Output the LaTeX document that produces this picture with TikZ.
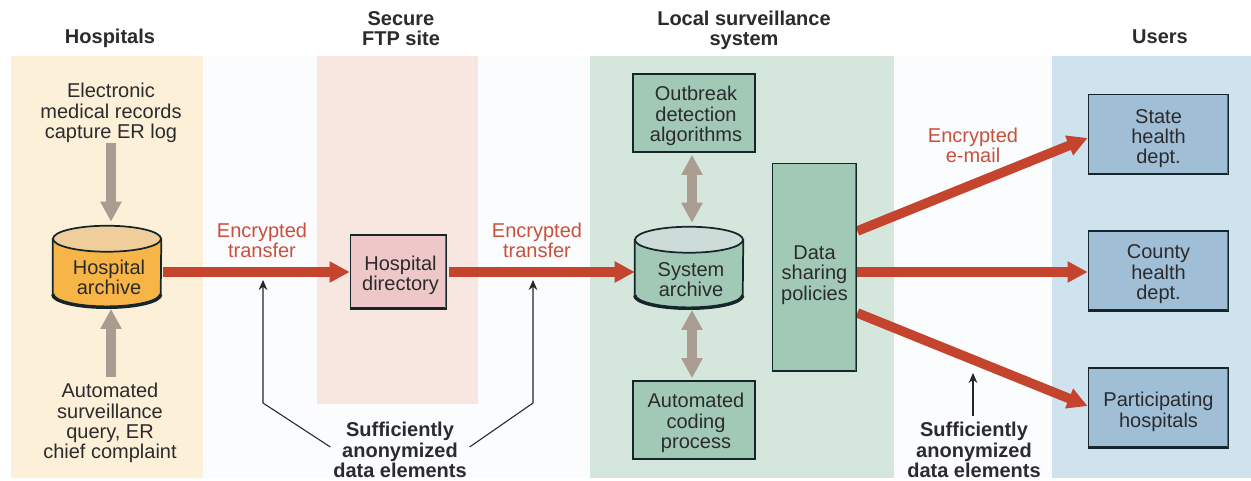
\documentclass[tikz,border=0pt]{standalone}
\usepackage{fontspec}
\setmainfont{Liberation Sans}
\usetikzlibrary{arrows.meta,calc}
\pgfdeclarelayer{pan}
\pgfdeclarelayer{arr}
\pgfsetlayers{pan,arr,main}
\definecolor{redarrow}{HTML}{C5442E}
\definecolor{redtext}{HTML}{C8503C}
\definecolor{greyarrow}{HTML}{AB9C92}
\definecolor{darkline}{HTML}{14262A}
\definecolor{inktext}{HTML}{2B2B2D}
\definecolor{panA}{RGB}{253,240,216}
\definecolor{panB}{RGB}{248,230,224}
\definecolor{panC}{RGB}{213,230,220}
\definecolor{panD}{RGB}{207,227,238}
\definecolor{gridbg}{RGB}{251,252,254}
\definecolor{boxgreen}{RGB}{162,201,182}
\definecolor{boxblue}{RGB}{160,190,214}
\definecolor{boxpink}{RGB}{238,200,200}
\definecolor{canorange}{RGB}{247,181,72}
\definecolor{captan}{RGB}{239,206,156}
\definecolor{capgrey}{RGB}{205,220,216}
\newcommand\tl[1][15.5pt]{\rule{0pt}{#1}}
\newcommand\nudge{\hspace*{3pt}}
\newcommand\canshape[3]{%
  \draw[fill=#2,draw=darkline,line width=1.3pt] ($(#1.north west)+(0,13)$) -- ($(#1.south west)+(0,-13)$)
    arc[start angle=180,end angle=360,x radius=40.5pt,y radius=9.75pt]
    -- ($(#1.north east)+(0,13)$) -- cycle;
  \draw[darkline,line width=2.6pt] ($(#1.south west)+(0,-13)$)
    arc[start angle=180,end angle=360,x radius=40.5pt,y radius=9.75pt];
  \draw[fill=#3,draw=darkline,line width=1.3pt] ($(#1.north)+(0,13)$) ellipse [x radius=40.5pt,y radius=9.75pt];
}
\tikzset{
  x=0.75pt,y=-0.75pt,
  txt/.style={font=\fontsize{15}{15.2}\selectfont,align=center,text=inktext,inner sep=0pt},
  head/.style={txt,font=\fontsize{15}{15.2}\selectfont\bfseries},
  redlabel/.style={txt,text=redtext},
  boxed/.style={txt,draw=darkline,line width=1.3pt,rectangle,
    path picture={
      \draw[darkline,line width=2.6pt] (path picture bounding box.south west)--(path picture bounding box.south east);
      \draw[darkline!70,line width=1.6pt] (path picture bounding box.north east)--(path picture bounding box.south east);
    }},
  can/.style={txt,rectangle,minimum width=81pt,minimum height=60.75pt},
  boxg/.style={boxed,fill=boxgreen,minimum width=92pt,minimum height=59pt},
  boxb/.style={boxed,fill=boxblue,minimum width=105pt,minimum height=60pt},
  bigred/.style={draw=redarrow,line width=7.2pt,-{Triangle[length=15pt,width=15pt,fill=redarrow]}},
  greyone/.style={draw=greyarrow,line width=7pt,-{Triangle[length=15pt,width=15pt,fill=greyarrow]}},
  greytwo/.style={draw=greyarrow,line width=7pt,{Triangle[length=15pt,width=15pt,fill=greyarrow]}-{Triangle[length=15pt,width=15pt,fill=greyarrow]}},
  thinarrow/.style={draw=black!85,line width=0.8pt,-{Stealth[length=7.5pt,width=6.5pt]}},
}
\begin{document}
\begin{tikzpicture}
\useasboundingbox (0,0) rectangle (1251,481);
\begin{pgfonlayer}{pan}
\fill[white] (0,0) rectangle (1251,481);
\fill[gridbg] (203,56) rectangle (1052,478);
\fill[panA] (11,56) rectangle (203,478);
\fill[panB] (317,56) rectangle (478,404);
\fill[panC] (590,56) rectangle (894,478);
\fill[panD] (1052,56) rectangle (1251,478);
\end{pgfonlayer}
% headers
\node[head] (hHosp) at (110,35) {\tl Hospitals};
\node[head] (hFtp) at (401,25.5) {\tl Secure\\FTP site};
\node[head] (hLocal) at (744,27) {\tl Local surveillance\\system};
\node[head] (hUsers) at (1160,33) {\tl Users};
% plain texts
\node[txt] (emr) at (111,110) {\tl Electronic\\medical records\\capture ER log};
\node[txt] (auto) at (110,420) {\tl Automated\\surveillance\\query, ER\\chief complaint};
% cylinders
\node[can] (harch) at (107,266.5) {\tl[26.75pt]\nudge Hospital\\\nudge archive};
\node[can] (sarch) at (689,267.5) {\tl[28.25pt]\nudge System\\\nudge archive};
% boxes
\node[boxg] (outb) at (694,113) {\tl\nudge Outbreak\\\nudge detection\\\nudge algorithms};
\node[boxg] (coding) at (694,420) {\tl\nudge Automated\\\nudge coding\\\nudge process};
\node[boxg,minimum width=63pt,minimum height=156pt] (data) at (814.5,267.5) {\tl[21.5pt]Data\\sharing\\policies};
\node[boxed,fill=boxpink,minimum width=72pt,minimum height=55pt] (dir) at (398.5,272) {\tl\nudge Hospital\\\nudge directory};
\node[boxb] (state) at (1158.5,134.5) {\tl[16.5pt]State\\health\\dept.};
\node[boxb] (county) at (1158.5,271) {\tl County\\health\\dept.};
\node[boxb] (part) at (1158.5,408) {\tl[16.5pt]Participating\\hospitals};
% red labels
\node[redlabel] (lab1) at (262,237) {\tl Encrypted\\transfer};
\node[redlabel] (lab2) at (537,237) {\tl Encrypted\\transfer};
\node[redlabel] (lab3) at (973,142) {\tl Encrypted\\e-mail};
% bold notes
\node[head,inner xsep=2pt] (note1) at (400,447) {\tl Sufficiently\\anonymized\\data elements};
\node[head] (note2) at (974,447) {\tl Sufficiently\\anonymized\\data elements};
% free ends
\coordinate (t1) at (263,280);
\coordinate (c1) at (263,403);
\coordinate (t2) at (533,280);
\coordinate (c2) at (533,403);
\coordinate (t3) at (973,373);
\begin{pgfonlayer}{arr}
% grey arrows
\draw[greyone,shorten >=3pt] (emr.south) -- (emr.south |- harch.north);
\draw[greyone,shorten >=1.2pt] ($(auto.north)+(1,0)$) -- ($(auto.north |- harch.south)+(1,0)$);
\draw[greytwo,shorten <=1.2pt,shorten >=3pt] ($(outb.south)+(-2,0)$) -- ($(outb.south |- sarch.north)+(-2,0)$);
\draw[greytwo,shorten <=1.2pt,shorten >=1.2pt] ($(coding.north |- sarch.south)+(-2,0)$) -- ($(coding.north)+(-2,0)$);
% red arrows
\draw[bigred,shorten <=1.5pt] (harch.east |- dir.west) -- (dir.west);
\draw[bigred,shorten <=1.5pt] (dir.east) -- (dir.east -| sarch.west);
\draw[bigred] ($(data.east)+(0,-36.5)$) -- ($(state.west)+(0,3.5)$);
\draw[bigred] ($(data.east)+(0,4.5)$) -- ($(county.west)+(0,1)$);
\draw[bigred] ($(data.east)+(0,45.5)$) -- ($(part.west)+(0,-2)$);
% thin arrows
\draw[thinarrow] (note1.west) -- (c1) -- (t1);
\draw[thinarrow] (note1.east) -- (c2) -- (t2);
\draw[thinarrow] (note2.north -| t3) -- (t3);
% cylinder bodies
\canshape{harch}{canorange}{captan}
\canshape{sarch}{boxgreen}{capgrey}
\end{pgfonlayer}
\end{tikzpicture}
\end{document}
